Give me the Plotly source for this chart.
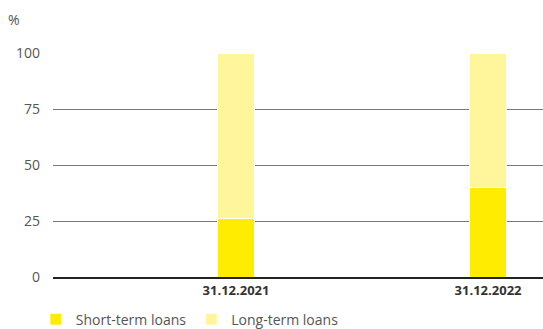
import plotly.graph_objects as go

dates = ["31.12.2021", "31.12.2022"]
short_term = [26, 40]
long_term = [74, 60]
y_ticks = [0, 25, 50, 75, 100]

font_family = "'Open Sans', sans-serif"
text_color = "#555555"

fig = go.Figure()
fig.add_trace(go.Bar(
    x=dates, y=short_term, name="Short-term loans",
    marker=dict(color="#FFEC00", line=dict(color="white", width=1)),
    width=0.15,
))
fig.add_trace(go.Bar(
    x=dates, y=long_term, name="Long-term loans",
    marker=dict(color="#FFF59B", line=dict(color="white", width=1)),
    width=0.15,
))

fig.update_layout(
    barmode="stack",
    width=543, height=329,
    margin=dict(l=53, r=0, t=53, b=52, autoexpand=False),
    plot_bgcolor="white", paper_bgcolor="white",
    font=dict(family=font_family, color=text_color, size=13),
    showlegend=True,
    legend=dict(
        orientation="h", x=-0.035, xanchor="left", y=-0.19, yanchor="middle",
        font=dict(size=14, color=text_color), traceorder="normal",
        itemwidth=30,
    ),
    xaxis=dict(
        type="category", range=[-0.726, 1.218],
        showgrid=False, showline=True, linecolor="#222222", linewidth=2,
        ticks="", tickfont=dict(size=13, color="#333333", weight="bold"),
    ),
    yaxis=dict(
        range=[0, 100], tickvals=y_ticks, ticktext=[str(v) for v in y_ticks],
        showgrid=True, gridcolor="#777777", gridwidth=1,
        zeroline=False, ticks="", ticklabelstandoff=12,
        tickfont=dict(size=14, color=text_color),
    ),
    annotations=[dict(
        text="%", xref="paper", yref="paper", x=-0.08, y=1.15,
        xanchor="center", yanchor="middle", showarrow=False,
        font=dict(size=14, color=text_color),
    )],
)

fig.write_html("out.html")
